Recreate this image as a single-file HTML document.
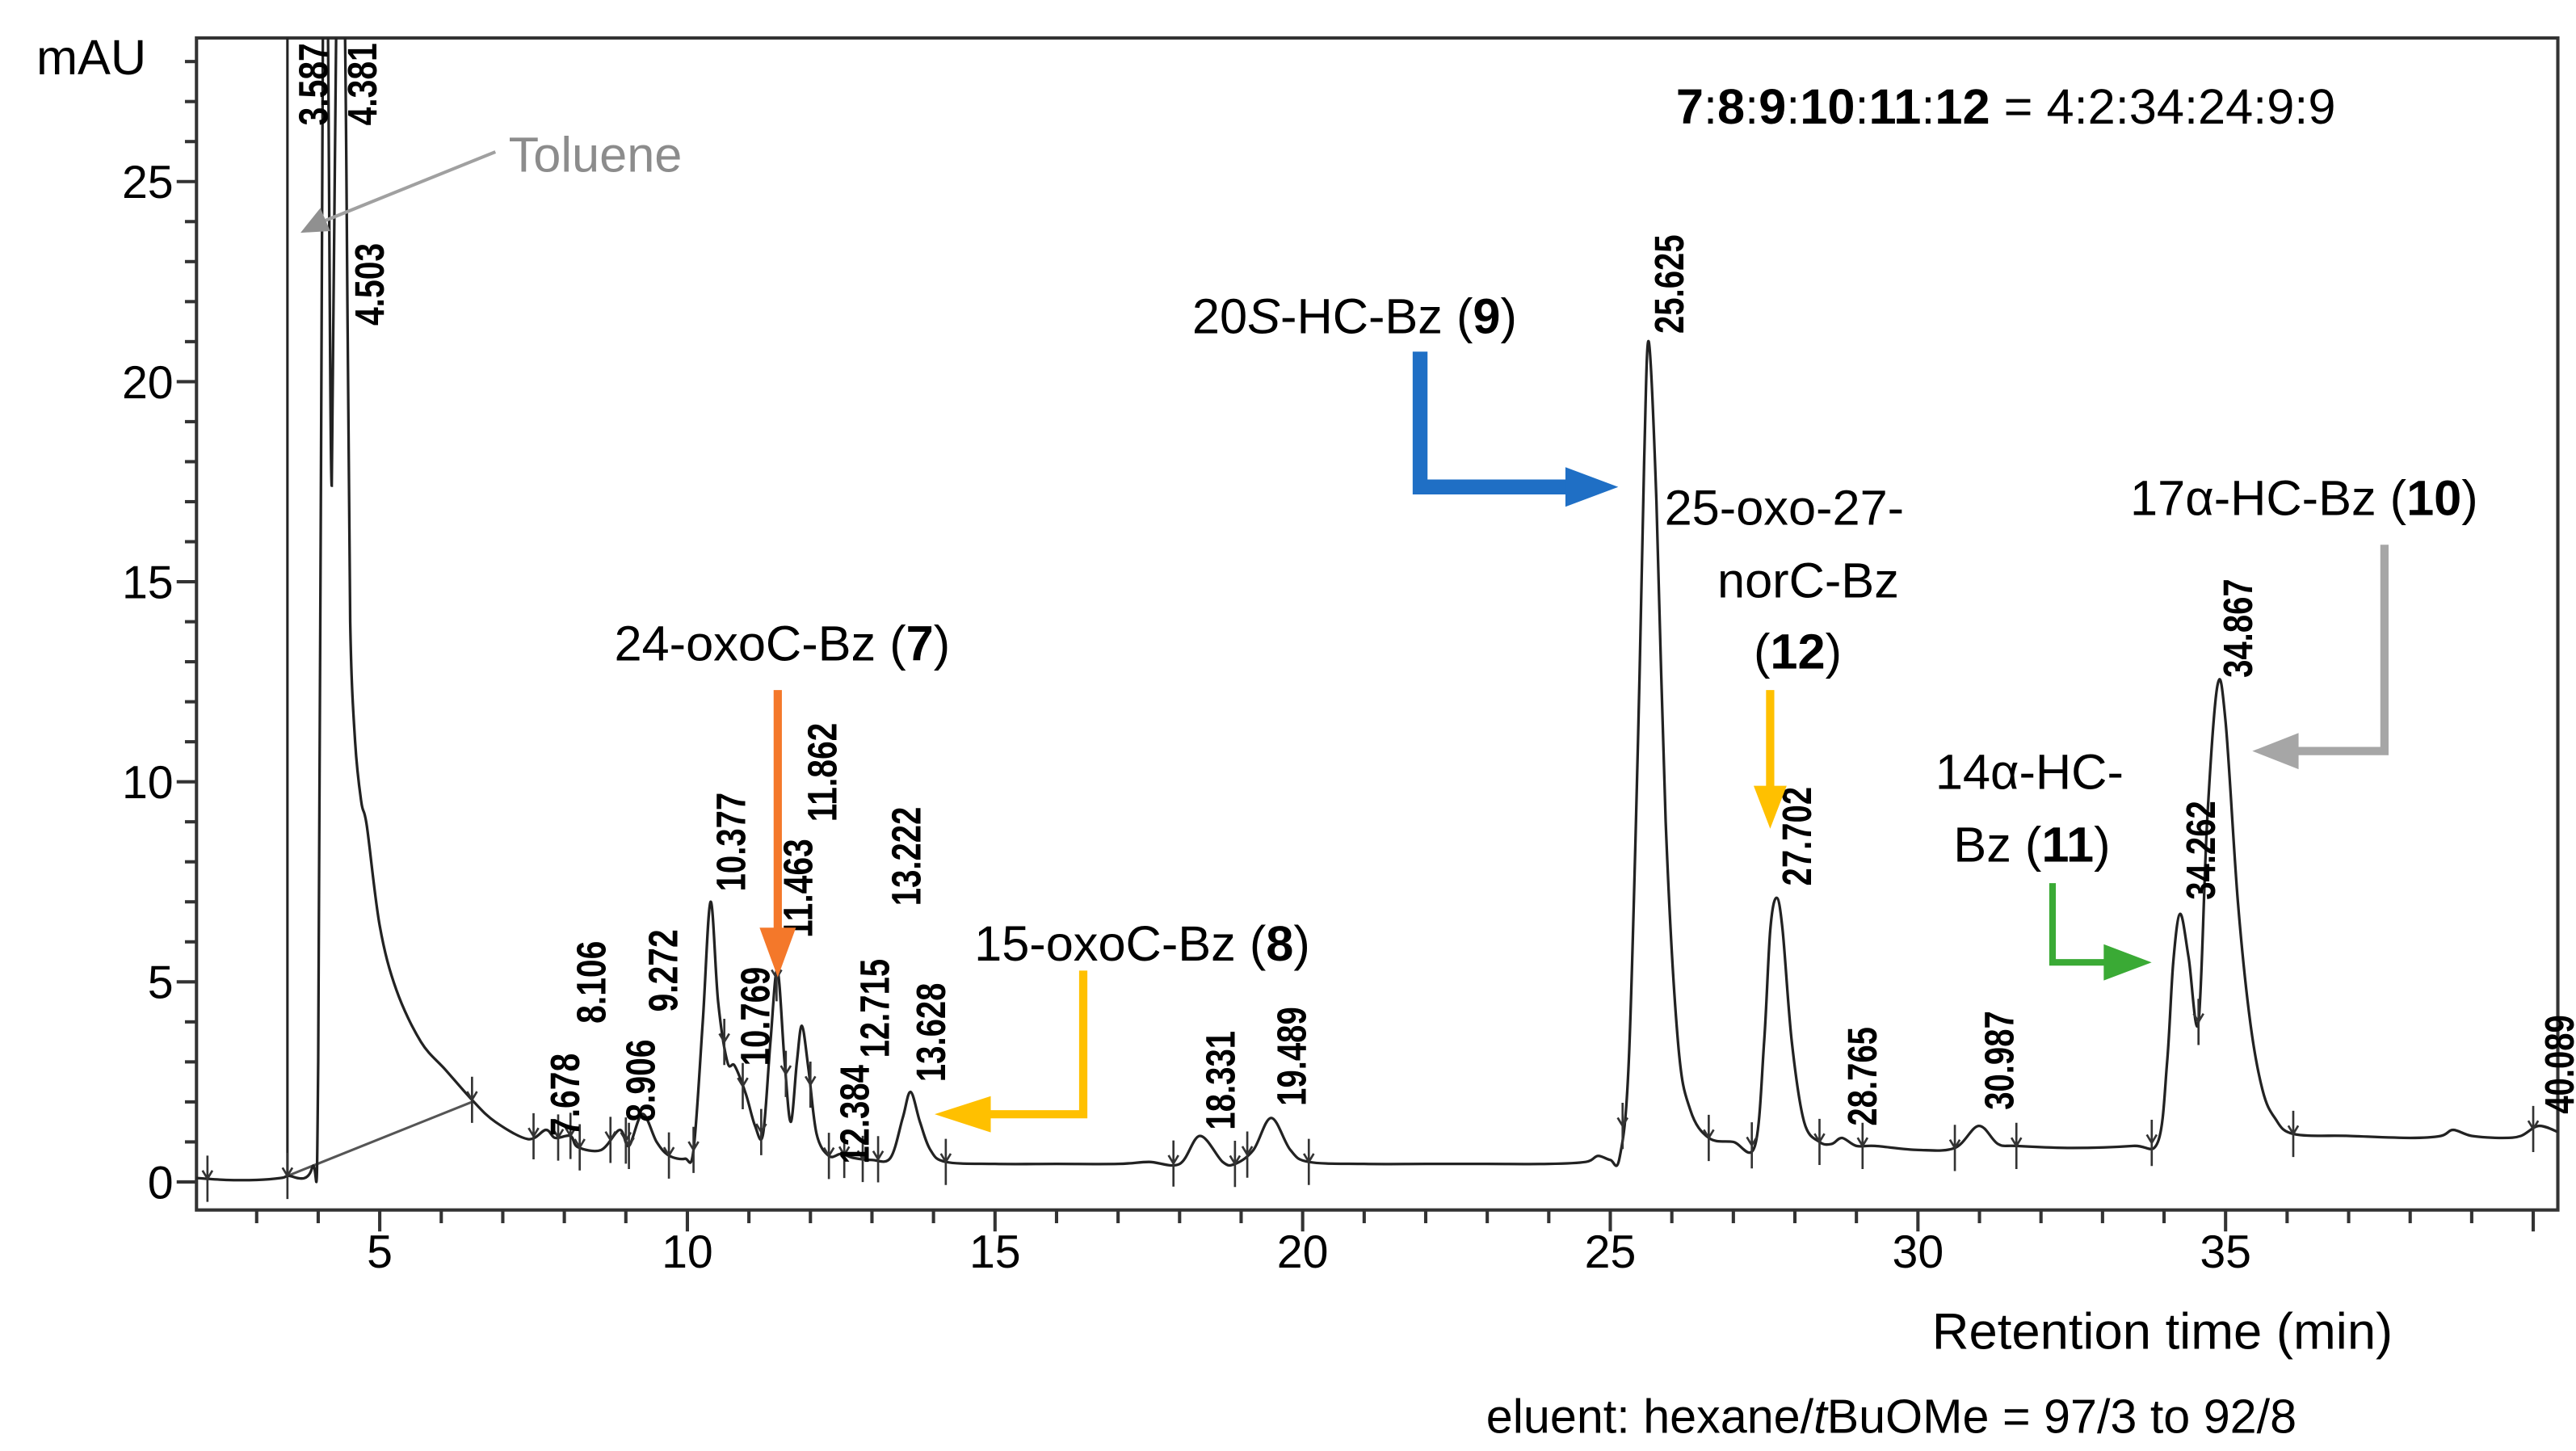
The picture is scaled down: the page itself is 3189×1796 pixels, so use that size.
<!DOCTYPE html>
<html><head><meta charset="utf-8"><style>
html,body{margin:0;padding:0;background:#fff;}
svg{display:block;}
text{font-family:"Liberation Sans",sans-serif;}
</style></head><body>
<svg id="chart" width="3189" height="1796" viewBox="0 0 1560 879" preserveAspectRatio="none" xmlns="http://www.w3.org/2000/svg">
<defs><clipPath id="plotclip"><rect x="119" y="23" width="1430" height="709"/></clipPath></defs>
<g id="axes"></g>
<g id="trace" clip-path="url(#plotclip)"></g>
<g id="labels"></g>

<text x="22" y="45" font-size="30">mAU</text>
<text x="1015" y="75" font-size="30"><tspan font-weight="bold">7</tspan>:<tspan font-weight="bold">8</tspan>:<tspan font-weight="bold">9</tspan>:<tspan font-weight="bold">10</tspan>:<tspan font-weight="bold">11</tspan>:<tspan font-weight="bold">12</tspan> = 4:2:34:24:9:9</text>

<text x="308" y="104" font-size="30" fill="#8c8c8c">Toluene</text>
<line x1="300" y1="92" x2="196" y2="134" stroke="#a0a0a0" stroke-width="2"/>
<polygon points="182,141 194,126 200,140" fill="#909090"/>

<text x="722" y="202" font-size="30">20<tspan font-style="italic">S</tspan>-HC-Bz (<tspan font-weight="bold">9</tspan>)</text>
<path d="M860,213 V295 H950" fill="none" stroke="#1f6fc5" stroke-width="9"/>
<polygon points="948,283 980,295 948,307" fill="#1f6fc5"/>

<text x="1008" y="318" font-size="30">25-oxo-27-</text>
<text x="1040" y="362" font-size="30">norC-Bz</text>
<text x="1062" y="405" font-size="30">(<tspan font-weight="bold">12</tspan>)</text>
<line x1="1072" y1="418" x2="1072" y2="478" stroke="#ffc000" stroke-width="5"/>
<polygon points="1062,476 1082,476 1072,502" fill="#ffc000"/>

<text x="1290" y="312" font-size="30">17α-HC-Bz (<tspan font-weight="bold">10</tspan>)</text>
<path d="M1444,330 V455 H1390" fill="none" stroke="#a6a6a6" stroke-width="5"/>
<polygon points="1392,444 1364,455 1392,466" fill="#a6a6a6"/>

<text x="1172" y="478" font-size="30">14α-HC-</text>
<text x="1183" y="522" font-size="30">Bz (<tspan font-weight="bold">11</tspan>)</text>
<path d="M1243,535 V583 H1276" fill="none" stroke="#3aaa35" stroke-width="4"/>
<polygon points="1274,572 1303,583 1274,594" fill="#3aaa35"/>

<text x="372" y="400" font-size="30">24-oxoC-Bz (<tspan font-weight="bold">7</tspan>)</text>
<line x1="471" y1="418" x2="471" y2="565" stroke="#f4782a" stroke-width="5"/>
<polygon points="460,562 482,562 471,592" fill="#f4782a"/>

<text x="590" y="582" font-size="30">15-oxoC-Bz (<tspan font-weight="bold">8</tspan>)</text>
<path d="M656,588 V675 H598" fill="none" stroke="#ffc000" stroke-width="5"/>
<polygon points="600,664 566,675 600,686" fill="#ffc000"/>

<text x="1170" y="817" font-size="31">Retention time (min)</text>
<text x="900" y="868" font-size="29">eluent: hexane/<tspan font-style="italic">t</tspan>BuOMe = 97/3 to 92/8</text>
</svg>
<script>
const times=[2.0,2.5,3.0,3.4,3.5,3.9,4.0,4.08,4.15,4.22,4.3,4.42,4.48,4.52,4.6,4.7,4.79,5.0,5.27,5.67,6.07,6.53,6.88,7.41,7.7,7.85,8.1,8.22,8.6,8.9,9.05,9.27,9.5,9.7,9.96,10.1,10.25,10.377,10.5,10.65,10.77,10.95,11.1,11.23,11.35,11.463,11.58,11.68,11.78,11.862,11.97,12.1,12.3,12.5,12.7,13.0,13.3,13.5,13.628,13.78,13.95,14.2,15,16,17,17.5,18.0,18.331,18.7,18.9,19.2,19.489,19.8,20.1,21,22,23,24,24.6,24.8,25.0,25.15,25.3,25.45,25.55,25.625,25.75,25.9,26.1,26.3,26.6,27.0,27.35,27.5,27.6,27.702,27.8,27.95,28.15,28.4,28.6,28.765,29.0,29.3,30.0,30.6,30.987,31.3,31.6,32.5,33.5,33.9,34.05,34.15,34.262,34.4,34.56,34.7,34.867,35.0,35.2,35.4,35.6,35.8,36.1,37,38,38.5,38.7,39.0,39.5,39.8,40.089,40.4];
const signal=[0.1,0.05,0.05,0.1,0.15,0.35,3,30,30,17.4,30,30,21,14,11,9.5,8.9,6.4,4.8,3.5,2.8,2.0,1.5,1.07,1.3,1.1,1.15,0.87,0.8,1.3,0.9,1.7,1.0,0.66,0.58,0.8,4,7.0,4.5,3.0,2.9,2.2,1.4,1.2,3.5,5.3,3.0,1.5,3.0,3.9,2.8,1.2,0.65,0.7,0.6,0.55,0.6,1.6,2.25,1.5,0.8,0.5,0.45,0.45,0.45,0.5,0.45,1.15,0.5,0.45,0.8,1.6,0.8,0.5,0.45,0.45,0.45,0.45,0.5,0.65,0.55,0.6,3.0,11,18,21,17,9,3.5,1.8,1.1,1.0,0.9,3.5,6.3,7.1,6.3,3.5,1.5,1.0,0.95,1.1,0.9,0.9,0.8,0.85,1.4,0.95,0.9,0.85,0.9,1.0,3,5.5,6.7,5.6,4.0,9,12.4,11.5,7,4,2.3,1.6,1.2,1.15,1.1,1.15,1.3,1.15,1.1,1.15,1.4,1.25];
const tickLabels=["3.587","4.381","4.503","7.678","8.106","8.906","9.272","10.377","10.769","11.463","11.862","12.384","12.715","13.222","13.628","18.331","19.489","25.625","27.702","28.765","30.987","34.262","34.867","40.089"];
const labelTimes=[3.587,4.381,4.503,7.678,8.106,8.906,9.272,10.377,10.769,11.463,11.862,12.384,12.715,13.222,13.628,18.331,19.489,25.625,27.702,28.765,30.987,34.262,34.867,40.089];
const labelLevels=[26.4,26.4,21.4,1.15,3.96,1.5,4.25,7.26,2.9,6.1,9.0,0.45,3.1,6.9,2.5,1.3,1.9,21.2,7.4,1.4,1.8,7.05,12.6,1.7];
const markerTimes=[2.2,3.5,6.5,7.5,7.9,8.1,8.25,8.75,9.0,9.05,9.7,10.1,10.6,10.9,11.2,11.45,11.6,12.0,12.3,12.55,12.85,13.1,14.2,17.9,18.9,19.1,20.1,25.2,26.6,27.3,28.4,29.1,30.6,31.6,33.8,34.56,36.1,40.0];
const yTickValues=[0,5,10,15,20,25];
const xTickValues=[5,10,15,20,25,30,35];

const SVGNS="http://www.w3.org/2000/svg";
const X0=2.022,X1=40.4,PX0=119,PX1=1549;
function xs(t){return PX0+(t-X0)/(X1-X0)*(PX1-PX0);}
function ys(v){return 716-24.24*v;}
function mk(tag,attrs,parent){const e=document.createElementNS(SVGNS,tag);for(const k in attrs)e.setAttribute(k,attrs[k]);parent.appendChild(e);return e;}
const axes=document.getElementById('axes');
const trace=document.getElementById('trace');
const labels=document.getElementById('labels');

let f=mk('path',{d:`M${PX0},23 H${PX1} V733 H${PX0} Z`,fill:'none',stroke:'#333',"stroke-width":2},axes);


for(let v=0;v<=28;v++){
  const major=v%5===0;
  let t=mk('line',{x1:major?PX0-12:PX0-7,x2:PX0,y1:ys(v),y2:ys(v),stroke:'#333',"stroke-width":2},axes);
  
  
}
yTickValues.forEach(v=>{
  let t=mk('text',{x:PX0-14,y:ys(v)+10,"font-size":28,"text-anchor":"end"},axes);
  t.textContent=String(v);
  
  
});
for(let m=3;m<=40;m++){
  const major=m%5===0;
  let t=mk('line',{x1:xs(m),x2:xs(m),y1:733,y2:major||m===40?746:741,stroke:'#333',"stroke-width":2},axes);
  
  
}
xTickValues.forEach(v=>{
  let t=mk('text',{x:xs(v),y:768,"font-size":28,"text-anchor":"middle"},axes);
  t.textContent=String(v);
  
  
});

let inj=mk('line',{x1:xs(3.5),x2:xs(3.5),y1:ys(0.15),y2:23,stroke:'#222',"stroke-width":1.5},trace);



let bl=mk('polyline',{points:[[3.5,0.15],[6.5,2.0]].map(p=>xs(p[0])+','+ys(p[1])).join(' '),fill:'none',stroke:'#555',"stroke-width":1.5},trace);



const P=times.map((t,i)=>[xs(t),ys(signal[i])]);
let d=`M${P[0][0]},${P[0][1]}`;
for(let i=0;i<P.length-1;i++){
  const p0=P[Math.max(0,i-1)],p1=P[i],p2=P[i+1],p3=P[Math.min(P.length-1,i+2)];
  const c1=[p1[0]+(p2[0]-p0[0])/6,p1[1]+(p2[1]-p0[1])/6];
  const c2=[p2[0]-(p3[0]-p1[0])/6,p2[1]-(p3[1]-p1[1])/6];
  d+=` C${c1[0]},${c1[1]} ${c2[0]},${c2[1]} ${p2[0]},${p2[1]}`;
}
let tr=mk('path',{d:d,fill:'none',stroke:'#222',"stroke-width":1.6},trace);



function interp(t){for(let i=0;i<times.length-1;i++){if(t>=times[i]&&t<=times[i+1]){const r=(t-times[i])/(times[i+1]-times[i]);return signal[i]+r*(signal[i+1]-signal[i]);}}return 0.5;}
markerTimes.forEach(t=>{
  const x=xs(t),y=ys(interp(t));
  let m=mk('path',{d:`M${x},${y-14} V${y+14} M${x-3},${y-5} L${x},${y} L${x+3},${y-5}`,fill:'none',stroke:'#333',"stroke-width":1.3},trace);
  
  
});

labelTimes.forEach((t,i)=>{
  const x=xs(t)+21,y=ys(labelLevels[i]);
  let lb=mk('text',{x:0,y:0,"font-size":25,"font-weight":"bold",transform:`translate(${x},${y}) rotate(-90)`,textLength:tickLabels[i].length*10,lengthAdjust:"spacingAndGlyphs"},labels);
  lb.textContent=tickLabels[i];
  
  
});
</script>
</body></html>
